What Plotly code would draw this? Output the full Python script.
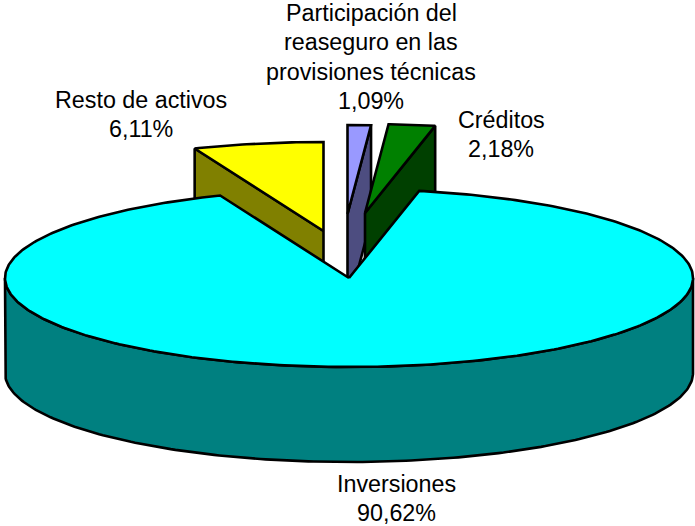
import numpy as np
import plotly.graph_objects as go

categories = ["Participación del reaseguro en las provisiones técnicas", "Créditos", "Inversiones", "Resto de activos"]
values = [1.09, 2.18, 90.62, 6.11]
top_colors = ["#9999FF", "#008000", "#00FFFF", "#FFFF00"]
side_colors = ["#4D4D80", "#004000", "#008080", "#808000"]
centers = [(347.5, 214), (365, 213), (349, 278), (323.5, 231)]
label_lines = [
    ["Participación del", "reaseguro en las", "provisiones técnicas"],
    ["Créditos"],
    ["Inversiones"],
    ["Resto de activos"],
]
label_pos = [(371, 13), (501, 120), (396, 484), (141, 100)]

RX, RY, DEPTH = 344, 89, 95
LINE_STEP = 29.3
FONT_SIZE = 23.3

cum = np.cumsum([0] + values)
total = cum[-1]
starts = cum[:-1] / total * 2 * np.pi
ends = cum[1:] / total * 2 * np.pi


def rim(c, t):
    return c[0] + RX * np.sin(t), c[1] - RY * np.cos(t)


fig = go.Figure()


def poly(xs, ys, color):
    fig.add_trace(go.Scatter(
        x=list(xs), y=list(ys), mode="lines", fill="toself", fillcolor=color,
        line=dict(color="black", width=2.6), hoverinfo="skip", showlegend=False,
    ))


def close(xs, ys):
    return list(xs) + [xs[0]], list(ys) + [ys[0]]


def draw_small(i):
    c = centers[i]
    t = np.linspace(starts[i], ends[i], 30)
    rx, ry = rim(c, t)
    # cut wall facing the viewer, then top face
    if i == 3:
        ex, ey = rim(c, starts[i])
    else:
        ex, ey = rim(c, ends[i])
    poly(*close([c[0], ex, ex, c[0]], [c[1], ey, ey + DEPTH, c[1] + DEPTH]), side_colors[i])
    poly(*close([c[0]] + list(rx), [c[1]] + list(ry)), top_colors[i])


for i in [3, 0, 1]:
    draw_small(i)

# main slice: outer wall over the front half, then top face
c = centers[2]
tf = np.linspace(np.pi / 2, 3 * np.pi / 2, 200)
fx, fy = rim(c, tf)
poly(*close(list(fx) + list(fx[::-1]), list(fy) + list(fy[::-1] + DEPTH)), side_colors[2])
t = np.linspace(starts[2], ends[2], 400)
rx, ry = rim(c, t)
poly(*close([c[0]] + list(rx), [c[1]] + list(ry)), top_colors[2])

annotations = []
for lines, val, (px, py) in zip(label_lines, values, label_pos):
    texts = lines + [f"{val:.2f}%".replace(".", ",")]
    for k, txt in enumerate(texts):
        annotations.append(dict(
            x=px, y=py + k * LINE_STEP, xref="x", yref="y", text=txt, showarrow=False,
            xanchor="center", yanchor="middle",
            font=dict(family="Liberation Sans", size=FONT_SIZE, color="black"),
        ))

fig.update_layout(
    width=695, height=526, margin=dict(l=0, r=0, t=0, b=0),
    paper_bgcolor="white", plot_bgcolor="white", annotations=annotations,
    xaxis=dict(range=[0, 695], visible=False, fixedrange=True),
    yaxis=dict(range=[526, 0], visible=False, fixedrange=True),
)
fig.write_html("out.html", config={"displayModeBar": False},
               post_script="document.body.style.margin='0';document.documentElement.style.overflow='hidden';")
